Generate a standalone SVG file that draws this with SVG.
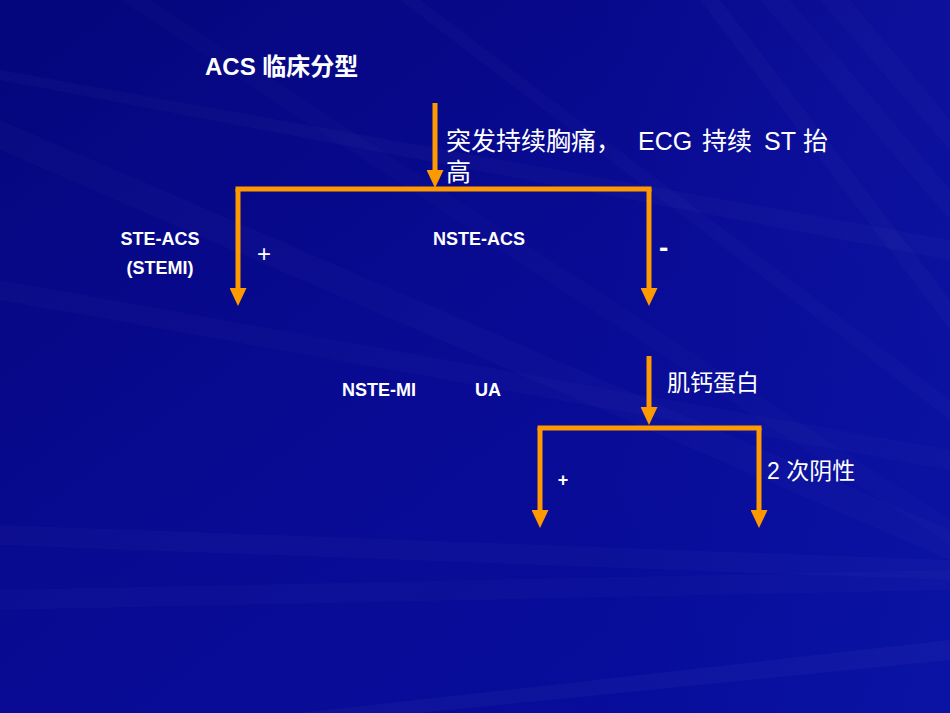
<svg xmlns="http://www.w3.org/2000/svg" width="950" height="713" viewBox="0 0 950 713">
<defs>
<linearGradient id="bg" x1="0" y1="0" x2="1" y2="1">
<stop offset="0" stop-color="#04067c"/>
<stop offset="0.5" stop-color="#090b94"/>
<stop offset="1" stop-color="#060e9e"/>
</linearGradient>
<linearGradient id="glow" x1="1" y1="0" x2="0" y2="0">
<stop offset="0" stop-color="#2a3ad0" stop-opacity="0.3"/>
<stop offset="1" stop-color="#2a3ad0" stop-opacity="0"/>
</linearGradient>
<marker id="ah" viewBox="0 0 18 17" markerUnits="userSpaceOnUse" markerWidth="18" markerHeight="17" refX="6" refY="8.5" orient="auto">
<path d="M0,0 L18,8.5 L0,17 z" fill="#ff9900"/>
</marker>
</defs>
<style>
.conn{stroke:#ff9900;stroke-width:5;fill:none;}
.arr{stroke:#ff9900;stroke-width:5;fill:none;marker-end:url(#ah);}
.t{fill:#ffffff;font-family:"Liberation Sans","Noto Sans CJK SC",sans-serif;}
.b{font-weight:bold;}
.streak{fill:#ffffff;}
</style>
<rect width="950" height="713" fill="url(#bg)"/>
<g id="background-streaks">
<polygon class="streak" opacity="0.025" points="950,240 950,260 0,80 0,70"/>
<polygon class="streak" opacity="0.02" points="950,530 950,560 0,150 0,120"/>
<polygon class="streak" opacity="0.03" points="950,640 950,660 420,713 300,713"/>
<polygon class="streak" opacity="0.02" points="950,570 950,590 0,610 0,590"/>
<polygon class="streak" opacity="0.025" points="950,560 950,580 0,545 0,525"/>
<polygon class="streak" opacity="0.025" points="700,0 720,0 950,300 950,330"/>
<polygon class="streak" opacity="0.02" points="760,0 790,0 950,190 950,220"/>
<polygon class="streak" opacity="0.02" points="820,0 850,0 950,120 950,150"/>
<polygon class="streak" opacity="0.02" points="400,0 420,0 950,400 950,420"/>
<polygon class="streak" opacity="0.015" points="120,0 150,0 950,520 950,545"/>
<polygon class="streak" opacity="0.02" points="0,280 0,300 950,470 950,450"/>
<rect x="600" y="0" width="350" height="713" fill="url(#glow)" opacity="0.4"/>
</g>
<g id="connectors">
<line class="arr" x1="435" y1="103" x2="435" y2="176"/>
<line class="conn" x1="235.5" y1="189" x2="651.5" y2="189"/>
<line class="arr" x1="238" y1="189" x2="238" y2="294"/>
<line class="arr" x1="649" y1="189" x2="649" y2="294"/>
<line class="arr" x1="649" y1="356" x2="649" y2="413"/>
<line class="conn" x1="537.5" y1="428" x2="761.5" y2="428"/>
<line class="arr" x1="540" y1="428" x2="540" y2="516"/>
<line class="arr" x1="759" y1="428" x2="759" y2="516"/>
</g>
<g id="title"><text class="t b" x="205" y="75" font-size="24">ACS 临床分型</text></g>
<g id="label-st-elevation">
<text class="t" y="150" font-size="25"><tspan x="446">突发持续胸痛，</tspan><tspan x="638">ECG</tspan><tspan x="702">持续</tspan><tspan x="764">ST</tspan><tspan x="803">抬</tspan></text>
<text class="t" x="446" y="181" font-size="25">高</text>
</g>
<g id="node-ste-acs">
<text class="t b" x="160" y="245" font-size="18" text-anchor="middle">STE-ACS</text>
<text class="t b" x="160" y="274" font-size="18" text-anchor="middle">(STEMI)</text>
</g>
<g id="label-plus-1"><text class="t" x="264" y="262" font-size="24" text-anchor="middle">+</text></g>
<g id="node-nste-acs"><text class="t b" x="433" y="245" font-size="18">NSTE-ACS</text></g>
<g id="label-minus"><text class="t b" x="659" y="257" font-size="28">-</text></g>
<g id="node-nste-mi"><text class="t b" x="342" y="396" font-size="18">NSTE-MI</text></g>
<g id="node-ua"><text class="t b" x="475" y="396" font-size="18">UA</text></g>
<g id="label-troponin"><text class="t" x="667" y="391" font-size="23">肌钙蛋白</text></g>
<g id="label-plus-2"><text class="t b" x="563" y="486" font-size="18" text-anchor="middle">+</text></g>
<g id="label-negative"><text class="t" x="767" y="479" font-size="23">2 次阴性</text></g>
</svg>
